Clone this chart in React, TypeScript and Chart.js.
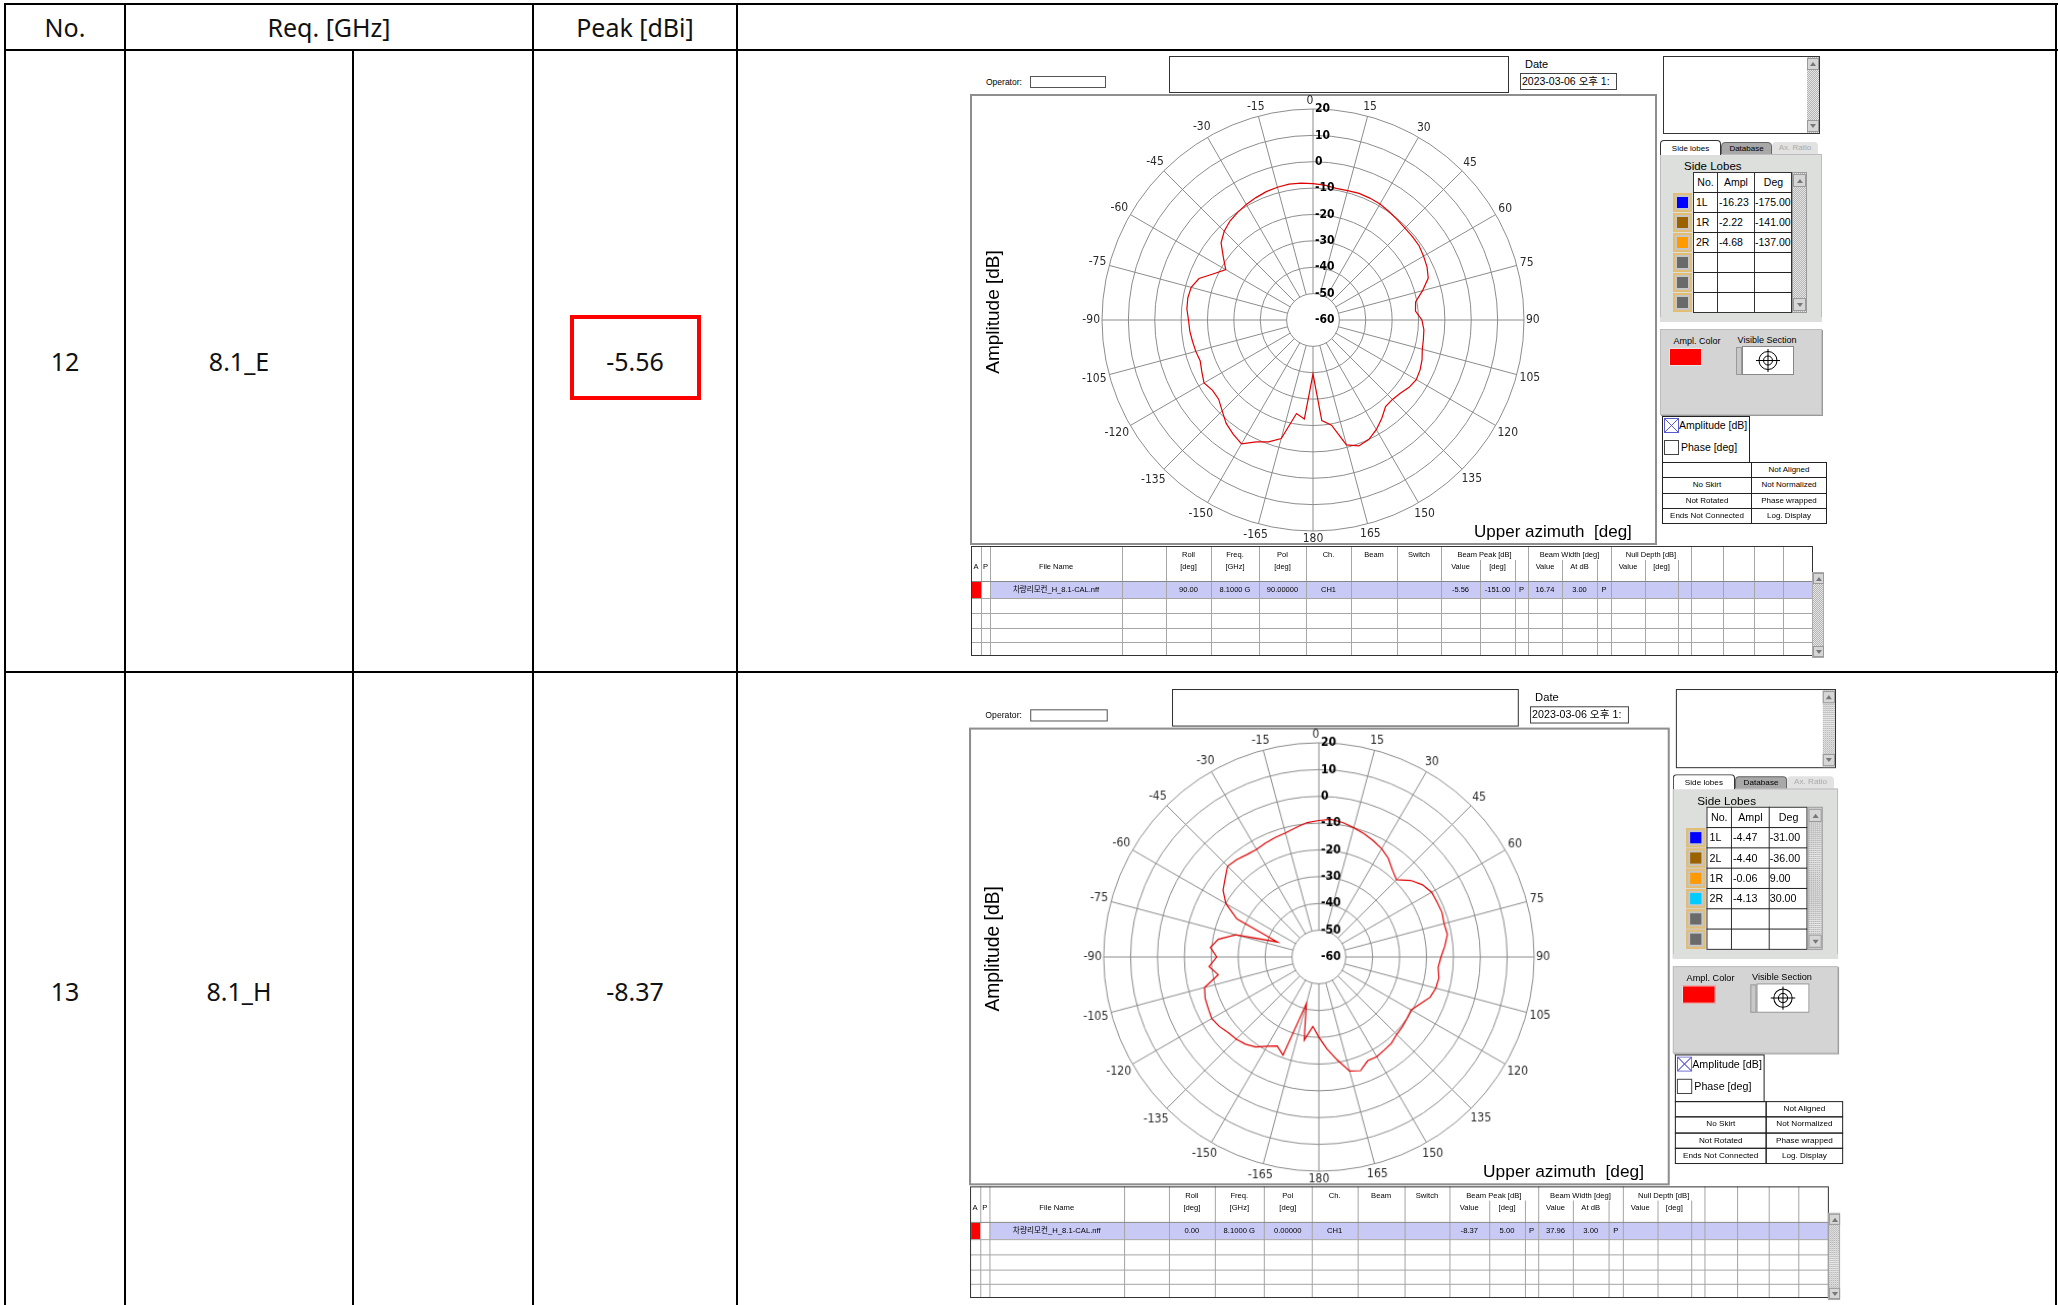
import React, { useEffect, useRef } from "react";
import { Chart, registerables } from "chart.js";
Chart.register(...registerables);

// ---------------- DATA ----------------
const azimuthDeg = [
  0, 5, 10, 15, 20, 25, 30, 35, 40, 45, 50, 55,
  60, 65, 70, 75, 80, 85, 90, 95, 100, 105, 110, 115,
  120, 125, 130, 135, 140, 145, 150, 155, 160, 165, 170, 175,
  180, 185, 190, 195, 200, 205, 210, 215, 220, 225, 230, 235,
  240, 245, 250, 255, 260, 265, 270, 275, 280, 285, 290, 295,
  300, 305, 310, 315, 320, 325, 330, 335, 340, 345, 350, 355,
];
const azimuthTickDeg = [0, 15, 30, 45, 60, 75, 90, 105, 120, 135, 150, 165, 180, 195, 210, 225, 240, 255, 270, 285, 300, 315, 330, 345];
const azimuthTickText = ["0", "15", "30", "45", "60", "75", "90", "105", "120", "135", "150", "165", "180", "-165", "-150", "-135", "-120", "-105", "-90", "-75", "-60", "-45", "-30", "-15"];
const amplitudeTicks = [20, 10, 0, -10, -20, -30, -40, -50, -60];

// Row 12 (8.1_E) amplitude pattern [dB], by azimuthDeg
const row12Amplitude = [
  -8.3, -8.7, -9.3, -9.2, -8.9, -9.0, -9.2, -9.8, -10.3, -10.7, -10.8, -10.9,
  -11.6, -12.3, -13.5, -17.0, -20.5, -21.0, -18.7, -17.8, -17.5, -17.1, -16.0, -15.2,
  -14.8, -15.5, -16.8, -17.4, -17.2, -14.5, -12.0, -10.0, -9.2, -11.0, -19.5, -21.7,
  -39.5, -22.3, -24.0, -13.5, -10.8, -9.0, -5.8, -7.2, -8.8, -11.3, -13.3, -13.5,
  -12.3, -13.5, -14.5, -14.0, -13.6, -13.1, -12.8, -12.0, -11.8, -12.2, -14.0, -18.5,
  -21.8, -18.5, -14.5, -12.4, -11.0, -10.2, -9.4, -8.8, -8.2, -7.9, -7.7, -7.9,
];
// Row 13 (8.1_H) amplitude pattern [dB], by azimuthDeg
const row13Amplitude = [
  -9.0, -8.4, -9.0, -10.0, -11.0, -12.1, -13.3, -15.0, -17.5, -19.2, -15.5, -13.0,
  -11.6, -11.5, -11.3, -11.8, -11.5, -13.0, -14.6, -15.5, -14.7, -15.0, -16.0, -18.5,
  -20.4, -20.0, -19.5, -19.1, -18.0, -17.6, -17.0, -17.2, -14.8, -15.9, -21.0, -25.5,
  -30.0, -34.0, -28.5, -42.0, -21.0, -23.3, -21.5, -19.0, -17.5, -16.6, -16.0, -14.8,
  -14.0, -14.6, -15.0, -16.0, -22.0, -19.0, -22.0, -19.5, -22.0, -28.0, -43.6, -26.4,
  -20.1, -16.5, -14.5, -12.0, -12.5, -13.3, -13.6, -13.0, -12.5, -12.0, -10.9, -9.6,
];

const tableNo = ["12", "13"];
const tableFreq = ["8.1_E", "8.1_H"];
const tablePeak = ["-5.56", "-8.37"];

const row12LobeNames = ["1L", "1R", "2R"];
const row12LobeAmpl = ["-16.23", "-2.22", "-4.68"];
const row12LobeDeg = ["-175.00", "-141.00", "-137.00"];
const row12LobeColors = ["#0000ff", "#9c6200", "#ff9a00"];

const row13LobeNames = ["1L", "2L", "1R", "2R"];
const row13LobeAmpl = ["-4.47", "-4.40", "-0.06", "-4.13"];
const row13LobeDeg = ["-31.00", "-36.00", "9.00", "30.00"];
const row13LobeColors = ["#0000ff", "#9c6200", "#ff9a00", "#00ccff"];

const fileName = "차량리모컨_H_8.1-CAL.nff";
const dateText = "2023-03-06 오후 1:";
const row12Meas = { roll: "90.00", freq: "8.1000 G", pol: "90.00000", ch: "CH1", peak: "-5.56", peakDeg: "-151.00", bw: "16.74", atdb: "3.00" };
const row13Meas = { roll: "0.00", freq: "8.1000 G", pol: "0.00000", ch: "CH1", peak: "-8.37", peakDeg: "5.00", bw: "37.96", atdb: "3.00" };

// ---------------- STYLE HELPERS ----------------
const UI = "'Liberation Sans', Arial, 'Noto Sans CJK KR', sans-serif";
const NARROW = "'Liberation Sans Narrow', 'DejaVu Sans Condensed', 'Liberation Sans', sans-serif";
const CHECK = "repeating-conic-gradient(#b4b4b4 0% 25%, #e6e6e6 0% 50%) 0 0 / 2px 2px";

function B({ x, y, w, h, s, children }: any) {
  return (
    <div style={{ position: "absolute", left: x, top: y, width: w, height: h, boxSizing: "border-box", ...s }}>
      {children}
    </div>
  );
}
function Tx({ x, y, w, h, size, align = "center", children, s }: any) {
  return (
    <div
      style={{
        position: "absolute", left: x, top: y, width: w, height: h, fontSize: size,
        lineHeight: h + "px", textAlign: align, whiteSpace: "pre", overflow: "hidden", ...s,
      }}
    >
      {children}
    </div>
  );
}
function Arrow({ x, y, w, h, up }: any) {
  const tri: any = { width: 0, height: 0, borderLeft: "3px solid transparent", borderRight: "3px solid transparent" };
  if (up) tri.borderBottom = "4px solid #777"; else tri.borderTop = "4px solid #777";
  return (
    <B x={x} y={y} w={w} h={h} s={{ background: "#d6d6d6", border: "1px solid #9a9a9a", display: "flex", alignItems: "center", justifyContent: "center" }}>
      <div style={tri} />
    </B>
  );
}

// ---------------- POLAR CHART ----------------
const polarDecor = {
  id: "polarDecor",
  beforeDatasetsDraw(chart: any) {
    const s = chart.scales.r;
    const ctx = chart.ctx;
    ctx.save();
    ctx.strokeStyle = "#8c8c8c";
    ctx.lineWidth = 1;
    azimuthTickDeg.forEach((deg) => {
      const i = azimuthDeg.indexOf(deg);
      const a = s.getPointPositionForValue(i, -50);
      const b = s.getPointPositionForValue(i, 20);
      ctx.beginPath();
      ctx.moveTo(a.x, a.y);
      ctx.lineTo(b.x, b.y);
      ctx.stroke();
    });
    ctx.fillStyle = "#2a2a2a";
    ctx.font = "12px " + NARROW;
    ctx.textAlign = "center";
    ctx.textBaseline = "middle";
    azimuthTickDeg.forEach((deg, k) => {
      const i = azimuthDeg.indexOf(deg);
      const text = azimuthTickText[k];
      const tw = ctx.measureText(text).width;
      const rad = (deg * Math.PI) / 180;
      const off = 2 + Math.abs(Math.sin(rad)) * tw / 2 + Math.abs(Math.cos(rad)) * 6;
      const p = s.getPointPosition(i, s.drawingArea + off);
      ctx.fillText(text, p.x - (deg === 0 ? 3 : 0), p.y);
    });
    ctx.restore();
  },
  afterDatasetsDraw(chart: any) {
    const s = chart.scales.r;
    const ctx = chart.ctx;
    ctx.save();
    ctx.fillStyle = "#000";
    ctx.font = "bold 12px " + NARROW;
    ctx.textAlign = "left";
    ctx.textBaseline = "middle";
    amplitudeTicks.forEach((v) => {
      const d = s.getDistanceFromCenterForValue(v);
      ctx.fillText(String(v), s.xCenter + 2, s.yCenter - d);
    });
    ctx.restore();
  },
};

function PolarChart({ values }: { values: number[] }) {
  const ref = useRef<HTMLCanvasElement>(null);
  useEffect(() => {
    const chart = new Chart(ref.current as HTMLCanvasElement, {
      type: "radar",
      data: {
        labels: azimuthDeg.map((d) => String(d)),
        datasets: [
          {
            data: values,
            borderColor: "#e00000",
            borderWidth: 1.2,
            pointRadius: 0,
            fill: false,
            tension: 0,
          },
        ],
      },
      options: {
        animation: false,
        responsive: false,
        devicePixelRatio: 1,
        layout: { padding: { left: 131, right: 131, top: 14, bottom: 13 } },
        plugins: { legend: { display: false }, tooltip: { enabled: false } },
        scales: {
          r: {
            min: -60,
            max: 20,
            ticks: { display: false, stepSize: 10 },
            grid: { circular: true, color: "#8c8c8c", lineWidth: 1 },
            angleLines: { display: false },
            pointLabels: { display: false },
          },
        },
      } as any,
      plugins: [polarDecor as any],
    });
    return () => chart.destroy();
  }, [values]);
  return (
    <canvas
      ref={ref}
      width={684}
      height={449}
      style={{ position: "absolute", left: 2, top: 40, width: 684, height: 449 }}
    />
  );
}

// ---------------- SCREEN (software screenshot) ----------------
const colX = [2, 12, 21, 153, 197, 242, 290, 337, 382, 428, 472, 511, 546, 559, 593, 628, 642, 676, 709, 722, 754, 785, 814, 843];
const subCols = [511, 546, 593, 628, 676, 709];

function Screen({ left, top, sx, sy, values, names, ampl, degs, colors, m }: any) {
  const lobeRows = [0, 1, 2, 3, 4, 5];
  return (
    <div
      style={{
        position: "absolute", left, top, width: 870, height: 610,
        transform: `scale(${sx}, ${sy})`, transformOrigin: "0 0", fontFamily: UI, color: "#000",
      }}
    >
      {/* header */}
      <Tx x={17} y={21} w={44} h={13} size={8.5} align="left">Operator:</Tx>
      <B x={61} y={21} w={76} h={12} s={{ border: "1px solid #555", background: "#fff" }} />
      <B x={200} y={1} w={340} h={37} s={{ border: "1px solid #333" }} />
      <Tx x={556} y={2} w={40} h={14} size={11} align="left">Date</Tx>
      <B x={551} y={18} w={97} h={17} s={{ border: "1px solid #444" }}>
        <Tx x={1} y={0} w={95} h={15} size={10.5} align="left">{dateText}</Tx>
      </B>

      {/* plot frame */}
      <B x={1} y={39} w={687} h={451} s={{ border: "2px solid #8e8e8e" }} />
      <PolarChart values={values} />
      <div
        style={{
          position: "absolute", left: 24, top: 257, fontSize: 19, whiteSpace: "pre",
          transform: "translate(-50%, -50%) rotate(-90deg)", lineHeight: "20px",
        }}
      >
        Amplitude [dB]
      </div>
      <Tx x={505} y={467} w={170} h={20} size={17} align="left">{"Upper azimuth  [deg]"}</Tx>

      {/* right: text box */}
      <B x={694} y={1} w={157} h={78} s={{ border: "1px solid #333", background: "#fff" }}>
        <B x={143} y={0} w={12} h={76} s={{ background: CHECK }} />
        <Arrow x={143} y={1} w={12} h={12} up />
        <Arrow x={143} y={63} w={12} h={12} />
      </B>

      {/* tabs */}
      <B x={752} y={87} w={51} h={13} s={{ background: "#a8a8a8", border: "1px solid #666", borderRadius: "4px 4px 0 0" }}>
        <Tx x={0} y={0} w={49} h={11} size={8}>Database</Tx>
      </B>
      <B x={803} y={87} w={46} h={13} s={{ background: "#e2e2e2", borderRadius: "4px 4px 0 0" }}>
        <Tx x={0} y={0} w={46} h={12} size={8} s={{ color: "#aaa" }}>Ax. Ratio</Tx>
      </B>
      <B x={691} y={99} w={162} h={167} s={{ background: "#dcdfdc", border: "1px solid #bcbcbc" }} />
      <B x={691} y={85} w={61} h={15} s={{ background: "#fff", border: "1px solid #333", borderBottom: "none", borderRadius: "4px 4px 0 0" }}>
        <Tx x={0} y={1} w={59} h={13} size={8}>Side lobes</Tx>
      </B>

      {/* side lobes table */}
      <Tx x={715} y={104} w={80} h={14} size={11.5} align="left">Side Lobes</Tx>
      <B x={724} y={117} w={99} h={141} s={{ background: "#fff", border: "1px solid #333" }} />
      <B x={748} y={117} w={1} h={141} s={{ background: "#333" }} />
      <B x={785} y={117} w={1} h={141} s={{ background: "#333" }} />
      {lobeRows.map((k) => (
        <B key={"hl" + k} x={724} y={137 + 20 * k} w={99} h={1} s={{ background: "#222" }} />
      ))}
      <Tx x={725} y={118} w={23} h={19} size={10.5}>No.</Tx>
      <Tx x={749} y={118} w={36} h={19} size={10.5}>Ampl</Tx>
      <Tx x={786} y={118} w={37} h={19} size={10.5}>Deg</Tx>
      {names.map((n: string, k: number) => (
        <React.Fragment key={"lr" + k}>
          <Tx x={727} y={138 + 20 * k} w={21} h={19} size={10.5} align="left">{n}</Tx>
          <Tx x={750} y={138 + 20 * k} w={35} h={19} size={10.5} align="left">{ampl[k]}</Tx>
          <Tx x={786} y={138 + 20 * k} w={37} h={19} size={10.5} align="left">{degs[k]}</Tx>
        </React.Fragment>
      ))}
      <B x={823} y={117} w={15} h={141} s={{ background: CHECK, border: "1px solid #999" }} />
      <Arrow x={824} y={119} w={13} h={13} up />
      <Arrow x={824} y={243} w={13} h={13} />
      {lobeRows.map((k) => (
        <B key={"sw" + k} x={704} y={138 + 20 * k} w={19} h={19} s={{ border: "2px solid #e2bd74", background: "#c6c6c6", padding: 2 }}>
          <div style={{ width: "100%", height: "100%", background: colors[k] || "#6a6a6a" }} />
        </B>
      ))}
      <B x={691} y={262} w={162} h={5} s={{ background: "#dcdfdc" }} />

      {/* ampl color panel */}
      <B x={691} y={274} w={162} h={86} s={{ background: "#d4d4d4", border: "1px solid #bdbdbd", boxShadow: "1px 1px 0 #999" }} />
      <Tx x={698} y={280} w={60} h={12} size={9}>Ampl. Color</Tx>
      <B x={700} y={293} w={33} h={18} s={{ background: "#ff0000", border: "1px solid #e6e6e6" }} />
      <Tx x={763} y={279} w={70} h={12} size={9}>Visible Section</Tx>
      <B x={767} y={292} w={6} h={28} s={{ background: "#c8c8c8", border: "1px solid #999" }} />
      <svg width={52} height={29} style={{ position: "absolute", left: 773, top: 291 }}>
        <rect x={0.5} y={0.5} width={51} height={28} fill="#fff" stroke="#888" />
        <circle cx={26} cy={14.5} r={9} fill="none" stroke="#000" />
        <circle cx={26} cy={14.5} r={4.5} fill="none" stroke="#000" />
        <line x1={14} y1={14.5} x2={38} y2={14.5} stroke="#000" />
        <line x1={26} y1={3} x2={26} y2={26} stroke="#000" />
      </svg>

      {/* checkbox group */}
      <B x={693} y={361} w={88} h={47} s={{ border: "1px solid #222", background: "#fff" }} />
      <svg width={15} height={15} style={{ position: "absolute", left: 695, top: 363 }}>
        <rect x={0.5} y={0.5} width={14} height={14} fill="#fff" stroke="#5a5ad0" />
        <line x1={1} y1={1} x2={14} y2={14} stroke="#5a5ad0" />
        <line x1={14} y1={1} x2={1} y2={14} stroke="#5a5ad0" />
      </svg>
      <Tx x={710} y={362} w={72} h={16} size={10.5} align="left">Amplitude [dB]</Tx>
      <B x={695} y={385} w={15} h={15} s={{ border: "1px solid #444" }} />
      <Tx x={712} y={384} w={68} h={16} size={10.5} align="left">Phase [deg]</Tx>

      {/* status table */}
      {[["", "Not Aligned"], ["No Skirt", "Not Normalized"], ["Not Rotated", "Phase wrapped"], ["Ends Not Connected", "Log. Display"]].map((r, k) => (
        <React.Fragment key={"st" + k}>
          <B x={693} y={407 + 15.3 * k} w={90} h={16.3} s={{ border: "1px solid #222" }}>
            <Tx x={0} y={0} w={88} h={14} size={8}>{r[0]}</Tx>
          </B>
          <B x={782} y={407 + 15.3 * k} w={76} h={16.3} s={{ border: "1px solid #222" }}>
            <Tx x={0} y={0} w={74} h={14} size={8}>{r[1]}</Tx>
          </B>
        </React.Fragment>
      ))}

      {/* bottom file table */}
      <B x={21} y={527} w={822} h={16} s={{ background: "#c9c9f6" }} />
      <B x={2.5} y={527} w={9.5} h={16} s={{ background: "#ff0000" }} />
      {colX.slice(1, colX.length - 1).map((cx) => (
        <B key={"cv" + cx} x={cx} y={subCols.indexOf(cx) >= 0 ? 505 : 491} w={1} h={subCols.indexOf(cx) >= 0 ? 95 : 109} s={{ background: "#a6a6a6" }} />
      ))}
      <B x={2} y={526} w={841} h={1} s={{ background: "#888" }} />
      {[543, 558, 573, 587].map((yy) => (
        <B key={"rh" + yy} x={2} y={yy} w={841} h={1} s={{ background: "#a6a6a6" }} />
      ))}
      <B x={2} y={491} w={842} h={110} s={{ border: "1px solid #333", borderRight: "1px solid #333" }} />
      <B x={843} y={517} w={12} h={86} s={{ background: CHECK, border: "1px solid #aaa" }} />
      <Arrow x={844} y={518} w={11} h={11} up />
      <Arrow x={844} y={591} w={11} h={11} />

      {/* table headers line 1 */}
      {[[197, 242, "Roll"], [242, 290, "Freq."], [290, 337, "Pol"], [337, 382, "Ch."], [382, 428, "Beam"], [428, 472, "Switch"], [472, 559, "Beam Peak [dB]"], [559, 642, "Beam Width [deg]"], [642, 722, "Null Depth [dB]"]].map((c: any) => (
        <Tx key={"h1" + c[0]} x={c[0]} y={494} w={c[1] - c[0]} h={12} size={7.5}>{c[2]}</Tx>
      ))}
      {/* table headers line 2 */}
      {[[2, 12, "A"], [12, 21, "P"], [21, 153, "File Name"], [197, 242, "[deg]"], [242, 290, "[GHz]"], [290, 337, "[deg]"], [472, 511, "Value"], [511, 546, "[deg]"], [559, 593, "Value"], [593, 628, "At dB"], [642, 676, "Value"], [676, 709, "[deg]"]].map((c: any) => (
        <Tx key={"h2" + c[0]} x={c[0]} y={505} w={c[1] - c[0]} h={14} size={7.5}>{c[2]}</Tx>
      ))}
      {/* data row */}
      {[[21, 153, fileName], [197, 242, m.roll], [242, 290, m.freq], [290, 337, m.pol], [337, 382, m.ch], [472, 511, m.peak], [511, 546, m.peakDeg], [546, 559, "P"], [559, 593, m.bw], [593, 628, m.atdb], [628, 642, "P"]].map((c: any) => (
        <Tx key={"d" + c[0]} x={c[0]} y={527} w={c[1] - c[0]} h={16} size={7.5}>{c[2]}</Tx>
      ))}
    </div>
  );
}

// ---------------- PAGE ----------------
const FONT = "'Noto Sans', 'Noto Sans CJK KR', sans-serif";

function HL({ x1, x2, y }: any) {
  return <B x={x1} y={y} w={x2 - x1} h={2} s={{ background: "#000" }} />;
}
function VL({ x, y1, y2 }: any) {
  return <B x={x} y={y1} w={2} h={y2 - y1} s={{ background: "#000" }} />;
}

export default function App() {
  const cell = (x1: number, x2: number, y1: number, y2: number, text: string) => (
    <Tx x={x1} y={y1} w={x2 - x1} h={y2 - y1} size={25} s={{ fontFamily: FONT, color: "#111" }}>{text}</Tx>
  );
  return (
    <div style={{ position: "absolute", left: 0, top: 0, width: 2058, height: 1305, overflow: "hidden", background: "#fff" }}>
      <HL x1={4} x2={2058} y={3} />
      <HL x1={4} x2={2058} y={49} />
      <HL x1={4} x2={2058} y={671} />
      <VL x={4} y1={3} y2={1305} />
      <VL x={124} y1={3} y2={1305} />
      <VL x={352} y1={50} y2={1305} />
      <VL x={532} y1={3} y2={1305} />
      <VL x={736} y1={3} y2={1305} />
      <VL x={2055} y1={3} y2={1305} />

      {cell(6, 124, 5, 49, "No.")}
      {cell(126, 532, 5, 49, "Req. [GHz]")}
      {cell(534, 736, 5, 49, "Peak [dBi]")}

      {cell(6, 124, 51, 671, tableNo[0])}
      {cell(126, 352, 51, 671, tableFreq[0])}
      {cell(534, 736, 51, 671, tablePeak[0])}
      <B x={570} y={315} w={131} h={85} s={{ border: "4px solid #ff0000" }} />

      {cell(6, 124, 673, 1309, tableNo[1])}
      {cell(126, 352, 673, 1309, tableFreq[1])}
      {cell(534, 736, 673, 1309, tablePeak[1])}

      <Screen left={969} top={55} sx={1} sy={1} values={row12Amplitude}
        names={row12LobeNames} ampl={row12LobeAmpl} degs={row12LobeDeg} colors={row12LobeColors} m={row12Meas} />
      <Screen left={967.6} top={688} sx={1.02} sy={1.015} values={row13Amplitude}
        names={row13LobeNames} ampl={row13LobeAmpl} degs={row13LobeDeg} colors={row13LobeColors} m={row13Meas} />
    </div>
  );
}
